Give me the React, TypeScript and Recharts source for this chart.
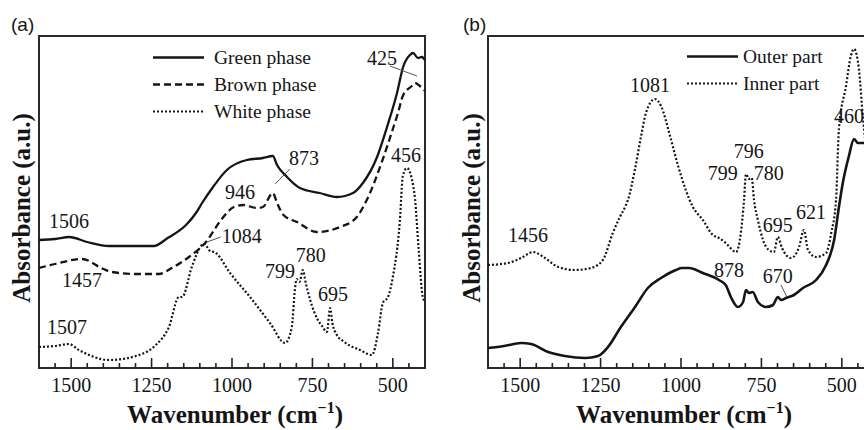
import React from 'react';
import { LineChart, Line, XAxis, YAxis, ReferenceArea, ReferenceDot, ReferenceLine, Legend } from 'recharts';

const SERIF = '"Liberation Serif", "Times New Roman", serif';
const SANS = '"Liberation Sans", Arial, sans-serif';

// ---------- shared axis ticks (wavenumber, cm-1) ----------
const tickLabels = [1500, 1250, 1000, 750, 500];
const allTicks = [1550, 1500, 1450, 1400, 1350, 1300, 1250, 1200, 1150, 1100, 1050, 1000, 950, 900, 850, 800, 750, 700, 650, 600, 550, 500, 450];

// ---------- panel (a) ----------
const greenWn = [1600, 1550, 1506, 1450, 1382, 1300, 1243, 1200, 1143, 1112, 1093, 1059, 1016, 954, 904, 873, 860, 829, 789, 727, 674, 624, 593, 549, 518, 487, 468, 447, 437, 422, 410, 400];
const greenAbs = [128, 129, 131, 126, 122, 122, 122, 130, 143, 155, 165, 181, 198, 208, 210, 212, 203, 191, 180, 175, 171, 175, 185, 211, 241, 275, 301, 313, 315, 310, 311, 308];

const brownWn = [1600, 1550, 1466, 1400, 1373, 1298, 1227, 1187, 1134, 1081, 1034, 994, 965, 923, 904, 873, 860, 840, 798, 736, 664, 612, 581, 531, 500, 484, 469, 441, 431, 416, 400];
const brownAbs = [100, 104, 109, 99, 96, 94, 94, 100, 111, 126, 148, 161, 163, 160, 161, 175, 165, 153, 146, 136, 141, 151, 168, 209, 239, 255, 272, 282, 285, 282, 277];

const whiteWn = [1600, 1550, 1507, 1476, 1382, 1289, 1237, 1196, 1165, 1155, 1125, 1093, 1084, 1072, 1050, 1006, 944, 882, 835, 814, 804, 799, 790, 780, 770, 757, 733, 720, 705, 695, 688, 674, 655, 602, 565, 546, 531, 515, 500, 478, 469, 456, 441, 431, 420, 407, 400];
const whiteAbs = [21, 22, 24, 18, 8, 13, 23, 41, 71, 71, 101, 123, 124, 118, 115, 95, 71, 45, 25, 41, 80, 89, 86, 98, 84, 68, 48, 42, 36, 60, 45, 33, 27, 18, 13, 35, 65, 71, 91, 148, 192, 200, 189, 169, 120, 71, 66];

// peak annotations: [wavenumber, absorbance, text]
const annotA: [number, number, string][] = [
  [534, 310, '425'], [776, 210, '873'], [975, 176, '946'], [459, 213, '456'],
  [1507, 147, '1506'], [1466, 88, '1457'], [1513, 41, '1507'], [970, 132, '1084'],
  [755, 113, '780'], [851, 97, '799'], [686, 74, '695'],
];
const leadersA: [number, number, number, number][] = [
  [509, 302, 425, 292], [820, 199, 866, 184], [1078, 126, 1035, 131],
];

// ---------- panel (b) ----------
const outerWn = [1600, 1550, 1497, 1466, 1413, 1361, 1298, 1258, 1227, 1187, 1143, 1103, 1062, 1016, 997, 975, 932, 882, 861, 845, 823, 807, 798, 789, 777, 761, 736, 714, 699, 689, 673, 649, 621, 580, 549, 524, 509, 497, 478, 462, 450, 430, 400];
const outerAbs = [20, 22, 25, 24, 16, 12, 10, 12, 21, 41, 61, 80, 90, 98, 100, 100, 95, 88, 83, 71, 61, 66, 78, 75, 76, 66, 61, 63, 71, 68, 70, 73, 80, 88, 103, 128, 161, 185, 212, 229, 225, 225, 220];

const innerWn = [1600, 1538, 1497, 1460, 1423, 1382, 1330, 1280, 1243, 1212, 1190, 1174, 1165, 1143, 1124, 1109, 1081, 1062, 1034, 1009, 963, 932, 901, 882, 861, 829, 814, 804, 798, 789, 780, 773, 761, 745, 727, 711, 699, 686, 658, 633, 618, 605, 580, 549, 533, 518, 509, 487, 472, 462, 447, 434, 420, 400];
const innerAbs = [103, 105, 110, 116, 110, 101, 98, 100, 108, 135, 151, 161, 168, 199, 232, 255, 269, 262, 232, 202, 161, 148, 133, 130, 125, 116, 135, 168, 194, 189, 190, 168, 148, 128, 118, 116, 131, 120, 110, 121, 138, 118, 111, 115, 135, 168, 239, 282, 312, 319, 299, 249, 210, 190];

const annotB: [number, number, string][] = [
  [1096, 283, '1081'], [478, 252, '460'], [789, 217, '796'], [870, 195, '799'],
  [727, 195, '780'], [699, 143, '695'], [596, 156, '621'], [1476, 133, '1456'],
  [851, 98, '878'], [699, 92, '670'],
];
const leadersB: [number, number, number, number][] = [[689, 83, 671, 71]];

const toPoints = (wn: number[], ab: number[]) => wn.map((w, i) => ({ w, v: ab[i] }));

const SOLID = { dash: undefined as string | undefined };
const DASHED = { dash: '7 4' };
const DOTTED = { dash: '2 2' };

const seriesA = [
  { name: 'Green phase', data: toPoints(greenWn, greenAbs), ...SOLID, width: 2.3 },
  { name: 'Brown phase', data: toPoints(brownWn, brownAbs), ...DASHED, width: 2.3 },
  { name: 'White phase', data: toPoints(whiteWn, whiteAbs), ...DOTTED, width: 2.2 },
];
const seriesB = [
  { name: 'Outer part', data: toPoints(outerWn, outerAbs), ...SOLID, width: 2.6 },
  { name: 'Inner part', data: toPoints(innerWn, innerAbs), ...DOTTED, width: 2.2 },
];

const INK = '#151515';

const FrameTick = (props: any) => {
  const { x, y, payload } = props;
  const v = payload.value;
  const major = tickLabels.includes(v);
  return (
    <g>
      <line x1={x} y1={y} x2={x} y2={y - (major ? 10 : 5)} stroke="#222" strokeWidth={1.6} />
      {major && (
        <text x={x} y={y + 24} textAnchor="middle" fontFamily={SERIF} fontSize={20} fill={INK}>
          {v}
        </text>
      )}
    </g>
  );
};

type Series = { name: string; data: { w: number; v: number }[]; dash?: string; width: number };

function LegendBox({ items, gap }: { items: Series[]; gap: number }) {
  return (
    <div>
      {items.map((s) => (
        <div key={s.name} style={{ display: 'flex', alignItems: 'center', height: 27 }}>
          <svg width={51} height={27}>
            <line x1={0} y1={13.5} x2={51} y2={13.5} stroke={INK} strokeWidth={s.width} strokeDasharray={s.dash} />
          </svg>
          <span style={{ marginLeft: gap, fontFamily: SERIF, fontSize: 19.5, color: INK, whiteSpace: 'nowrap' }}>{s.name}</span>
        </div>
      ))}
    </div>
  );
}

function Panel(props: {
  left: number; width: number; mLeft: number; mRight: number;
  series: Series[]; annots: [number, number, string][]; leaders: [number, number, number, number][];
  legendLeft: number; legendTop: number; legendGap: number;
}) {
  const { left, width, mLeft, mRight, series, annots, leaders, legendLeft, legendTop, legendGap } = props;
  return (
    <div style={{ position: 'absolute', left, top: 0, width, height: 430 }}>
      <LineChart width={width} height={430} margin={{ top: 36, left: mLeft, right: mRight, bottom: 32 }}>
        <XAxis
          type="number"
          dataKey="w"
          domain={[400, 1600]}
          reversed
          allowDataOverflow
          ticks={allTicks}
          interval={0}
          tickSize={0}
          tickMargin={0}
          axisLine={false}
          tickLine={false}
          tick={<FrameTick />}
          height={30}
        />
        <YAxis type="number" hide domain={[0, 332]} allowDataOverflow />
        <ReferenceArea x1={1600} x2={400} y1={0} y2={332} fill="none" fillOpacity={0} stroke="#2a2a2a" strokeWidth={2} ifOverflow="visible" />
        {series.map((s) => (
          <Line
            key={s.name}
            data={s.data}
            dataKey="v"
            name={s.name}
            type="monotone"
            stroke={INK}
            strokeWidth={s.width}
            strokeDasharray={s.dash}
            dot={false}
            activeDot={false}
            isAnimationActive={false}
          />
        ))}
        {leaders.map((l, i) => (
          <ReferenceLine
            key={'ld' + i}
            segment={[{ x: l[0], y: l[1] }, { x: l[2], y: l[3] }]}
            stroke="#555"
            strokeWidth={1}
            ifOverflow="visible"
          />
        ))}
        {annots.map((a, i) => (
          <ReferenceDot
            key={'an' + i}
            x={a[0]}
            y={a[1]}
            r={0}
            ifOverflow="visible"
            shape={(p: any) => (
              <text x={p.cx} y={p.cy} textAnchor="middle" dominantBaseline="central" fontFamily={SERIF} fontSize={20} fill={INK}>
                {a[2]}
              </text>
            )}
          />
        ))}
        <Legend
          layout="vertical"
          align="center"
          verticalAlign="middle"
          wrapperStyle={{ position: 'absolute', left: legendLeft, top: legendTop, width: 220, height: 90 }}
          content={() => <LegendBox items={series} gap={legendGap} />}
        />
      </LineChart>
    </div>
  );
}

function AxisTitles() {
  const xTitle = (cx: number) => (
    <text x={cx} y={423} textAnchor="middle" fontFamily={SERIF} fontWeight="bold" fontSize={25} fill={INK}>
      <tspan>Wavenumber (cm</tspan>
      <tspan dy={-10} fontSize={16}>−1</tspan>
      <tspan dy={10}>)</tspan>
    </text>
  );
  const yTitle = (cx: number) => (
    <text transform={`translate(${cx},208) rotate(-90)`} textAnchor="middle" dominantBaseline="central" fontFamily={SERIF} fontWeight="bold" fontSize={25} fill={INK}>
      Absorbance (a.u.)
    </text>
  );
  return (
    <svg width={864} height={430} style={{ position: 'absolute', left: 0, top: 0, pointerEvents: 'none' }}>
      <text x={11} y={31} fontFamily={SANS} fontSize={19} fill={INK}>(a)</text>
      <text x={463} y={31} fontFamily={SANS} fontSize={19} fill={INK}>(b)</text>
      {xTitle(235)}
      {xTitle(684)}
      {yTitle(21)}
      {yTitle(471)}
    </svg>
  );
}

export default function App() {
  return (
    <div style={{ position: 'absolute', left: 0, top: 0, width: 864, height: 430, overflow: 'hidden', background: '#fff' }}>
      <Panel left={0} width={432} mLeft={39} mRight={7} series={seriesA} annots={annotA} leaders={leadersA}
        legendLeft={153} legendTop={44} legendGap={10} />
      <Panel left={432} width={460} mLeft={56} mRight={18} series={seriesB} annots={annotB} leaders={leadersB}
        legendLeft={255} legendTop={43} legendGap={5} />
      <AxisTitles />
    </div>
  );
}
